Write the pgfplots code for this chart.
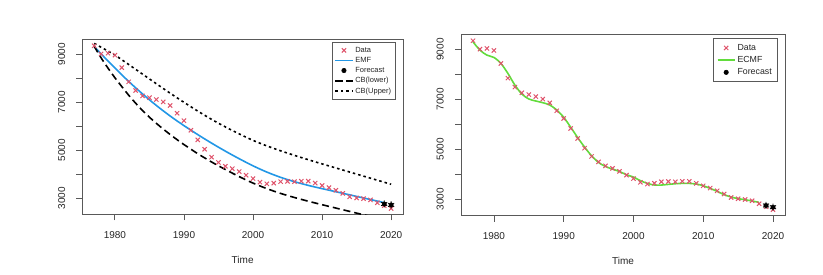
\documentclass[border=0pt]{standalone}
\usepackage{pgfplots}
\pgfplotsset{compat=1.18}
\usepackage{fontspec}
\setmainfont{Liberation Sans}
\definecolor{rred}{HTML}{DF536B}
\definecolor{rblue}{HTML}{2297E6}
\definecolor{rgreen}{HTML}{62DC3C}
\pgfplotsset{
  rstyle/.style={
    scale only axis,
    xmin=1975.28, xmax=2021.72, ymin=2330, ymax=9620,
    axis line style={black!65, line width=0.8pt},
    tick style={black!65, line width=0.8pt},
    tick align=outside, major tick length=6pt, tick pos=left,
    xtick={1980,1990,...,2020},
    ytick={3000,4000,...,9000},
    yticklabels={3000,,5000,,7000,,9000},
    /pgf/number format/assume math mode=true,
    /pgf/number format/1000 sep={},
    yticklabel style={xshift=-8pt, rotate=90, anchor=south, font=\fontsize{10}{12}\selectfont, text=black!85, inner sep=3pt},
    xticklabel style={yshift=-8pt, font=\fontsize{10}{12}\selectfont, text=black!85, inner sep=3pt},
    xlabel={Time},
    xlabel style={font=\fontsize{10}{12}\selectfont, text=black!85, yshift=-11pt},
    legend cell align=left,
  }
}
\pgfplotstableread{
year val
1977 9350
1978 9010
1979 9040
1980 8960
1981 8440
1982 7850
1983 7490
1984 7260
1985 7190
1986 7110
1987 7010
1988 6860
1989 6540
1990 6230
1991 5830
1992 5430
1993 5040
1994 4710
1995 4490
1996 4330
1997 4230
1998 4110
1999 3960
2000 3820
2001 3670
2002 3600
2003 3630
2004 3690
2005 3700
2006 3690
2007 3710
2008 3710
2009 3630
2010 3530
2011 3440
2012 3330
2013 3200
2014 3060
2015 3010
2016 2980
2017 2930
2018 2810
2019 2690
2020 2575
}\datatab
\pgfplotstableread{
year val
1977 9320
1978 9015
1979 8715
1980 8425
1981 8140
1982 7865
1983 7600
1984 7345
1985 7100
1986 6865
1987 6640
1988 6425
1989 6220
1990 6025
1991 5835
1992 5650
1993 5470
1994 5295
1995 5125
1996 4960
1997 4800
1998 4645
1999 4495
2000 4350
2001 4215
2002 4090
2003 3975
2004 3870
2005 3775
2006 3690
2007 3610
2008 3535
2009 3465
2010 3400
2011 3335
2012 3270
2013 3205
2014 3140
2015 3075
2016 3010
2017 2945
2018 2880
2019 2815
}\emftab
\pgfplotstableread{
year val
1977 9330
1978 8850
1979 8420
1980 8020
1981 7650
1982 7290
1983 6960
1984 6655
1985 6375
1986 6120
1987 5880
1988 5655
1989 5440
1990 5235
1992 4855
1994 4510
1996 4195
1998 3900
2000 3630
2002 3400
2004 3200
2006 3030
2008 2875
2010 2730
2012 2590
2014 2450
2016 2310
2018 2175
2020 2040
}\lowtab
\pgfplotstableread{
year val
1977 9450
1978 9290
1979 9130
1980 8965
1982 8570
1984 8170
1986 7770
1988 7375
1990 6995
1992 6630
1994 6285
1996 5970
1998 5680
2000 5410
2002 5180
2004 4975
2006 4785
2008 4605
2010 4430
2012 4260
2014 4090
2016 3920
2018 3750
2020 3580
}\uptab
\pgfplotstableread{
year val
1977 9304
1978 8972
1979 8772
1980 8680
1981 8440
1982 8040
1983 7572
1984 7212
1985 7012
1986 6932
1987 6864
1988 6772
1989 6572
1990 6280
1991 5880
1992 5464
1993 5080
1994 4732
1995 4464
1996 4304
1997 4200
1998 4104
1999 3972
2000 3880
2001 3733
2002 3626
2003 3560
2004 3560
2005 3586
2006 3613
2007 3626
2008 3626
2009 3600
2010 3533
2011 3426
2012 3306
2013 3173
2014 3080
2015 3013
2016 2972
2017 2920
2018 2866
}\ecmftab
\pgfplotstableread{
year val
2019 2760
2020 2720
}\fcleft
\pgfplotstableread{
year val
2019 2740
2020 2670
}\fcright
\begin{document}
\begin{tikzpicture}[x=1pt,y=1pt]
\useasboundingbox (0,0) rectangle (823,274);
% left panel
\begin{axis}[rstyle, at={(82.3pt,59.7pt)}, anchor=south west, width=320.7pt, height=175pt,
  legend style={at={(0.978,0.983)}, anchor=north east, draw=black!65, line width=0.6pt,
    font=\fontsize{7.5}{8}\selectfont, row sep=-0.6pt, inner sep=2.5pt,
    nodes={text=black!85}}]
\addplot[only marks, mark=x, mark size=3pt, rred, mark options={line width=1pt}] table[x=year,y=val]{\datatab};
\addlegendentry{Data}
\addplot[rblue, line width=1.6pt, smooth] table[x=year,y=val]{\emftab};
\addlegendentry{EMF}
\addplot[only marks, mark=*, mark size=2.2pt, black] table[x=year,y=val]{\fcleft};
\addlegendentry{Forecast}
\addplot[forget plot, only marks, mark=asterisk, mark size=3.5pt, black, mark options={line width=0.8pt}] table[x=year,y=val]{\fcleft};
\addplot[black, line width=1.6pt, dash pattern=on 7pt off 4pt, smooth] table[x=year,y=val]{\lowtab};
\addlegendentry{CB(lower)}
\addplot[black, line width=1.6pt, dash pattern=on 2.5pt off 3pt, smooth] table[x=year,y=val]{\uptab};
\addlegendentry{CB(Upper)}
\end{axis}
% right panel
\begin{axis}[rstyle, at={(461pt,58.3pt)}, anchor=south west, width=324pt, height=181.7pt,
  legend style={at={(0.977,0.976)}, anchor=north east, draw=black!65, line width=0.6pt,
    font=\fontsize{8.8}{9}\selectfont, row sep=0.6pt, inner sep=3.5pt,
    nodes={text=black!85}}]
\addplot[only marks, mark=x, mark size=3pt, rred, mark options={line width=1pt}] table[x=year,y=val]{\datatab};
\addlegendentry{Data}
\addplot[rgreen, line width=1.6pt, smooth] table[x=year,y=val]{\ecmftab};
\addlegendentry{ECMF}
\addplot[only marks, mark=*, mark size=2.2pt, black] table[x=year,y=val]{\fcright};
\addlegendentry{Forecast}
\addplot[forget plot, only marks, mark=asterisk, mark size=3.5pt, black, mark options={line width=0.8pt}] table[x=year,y=val]{\fcright};
\end{axis}
\end{tikzpicture}
\end{document}
